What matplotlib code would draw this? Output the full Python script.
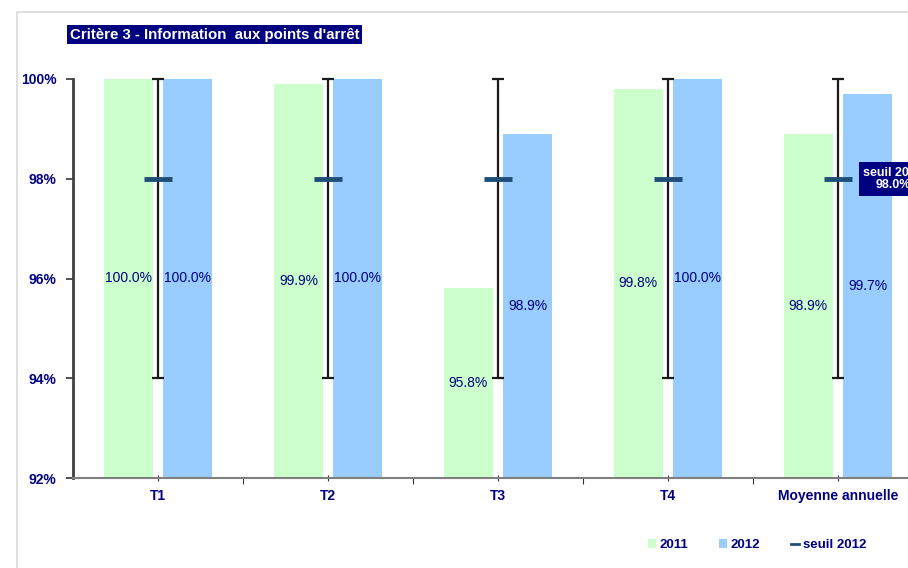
import numpy as np
import matplotlib
matplotlib.use("Agg")
import matplotlib.pyplot as plt
from matplotlib.patches import Patch, Rectangle
from matplotlib.lines import Line2D

plt.rcParams['font.family'] = ['Liberation Sans', 'DejaVu Sans']

categories = ["T1", "T2", "T3", "T4", "Moyenne annuelle"]
val_2011 = [100.0, 99.9, 95.8, 99.8, 98.9]
val_2012 = [100.0, 100.0, 98.9, 100.0, 99.7]
seuil_2012 = [98.0, 98.0, 98.0, 98.0, 98.0]
range_low = [94.0, 94.0, 94.0, 94.0, 94.0]
range_high = [100.0, 100.0, 100.0, 100.0, 100.0]
y_ticks = [92, 94, 96, 98, 100]

NAVY = "#000080"
GREEN = "#CCFFCC"
BLUE = "#99CCFF"
SEUIL = "#1F4E79"

W, H = 908, 568
fig = plt.figure(figsize=(W / 100, H / 100), dpi=100)
fig.patch.set_facecolor("white")

# outer frame
fig.add_artist(Rectangle((17 / W, -0.1), 1.2, 1 - 12 / H + 0.1, transform=fig.transFigure,
                         fill=False, edgecolor="#D9D9D9", linewidth=1.2))

ax = fig.add_axes([73 / W, (H - 478) / H, 850 / W, 399 / H])
ax.set_facecolor("none")

x = np.arange(len(categories))
bw = 0.29
off = 0.174
ax.bar(x - off, np.array(val_2011) - 92, bw, bottom=92, color=GREEN, zorder=2)
ax.bar(x + off, np.array(val_2012) - 92, bw, bottom=92, color=BLUE, zorder=2)

# data labels at the middle of each bar
for xi, v in zip(x, val_2011):
    ax.text(xi - off, (92 + v) / 2, f"{v:.1f}%", ha="center", va="center",
            fontsize=10, color=NAVY, zorder=5)
for xi, v in zip(x, val_2012):
    ax.text(xi + off, (92 + v) / 2, f"{v:.1f}%", ha="center", va="center",
            fontsize=10, color=NAVY, zorder=5)

# range lines around the threshold
s = np.array(seuil_2012)
ax.errorbar(x, s, yerr=[s - np.array(range_low), np.array(range_high) - s],
            fmt="none", ecolor="#1a1a1a", elinewidth=1.6, capsize=4, capthick=1.6,
            zorder=3, clip_on=False)
ax.plot(x, seuil_2012, linestyle="none", marker="_", markersize=19.5,
        markeredgewidth=3.5, color=SEUIL, zorder=4, clip_on=False)

ax.set_xlim(-0.5, len(categories) - 0.5)
ax.set_ylim(92, 100)
ax.set_yticks(y_ticks)
ax.set_yticklabels([f"{t}%" for t in y_ticks])
ax.set_xticks(x)
ax.set_xticklabels(categories)
ax.set_xticks(np.arange(len(categories)) + 0.5, minor=True)
ax.tick_params(axis="y", direction="out", length=5, width=1.2, color="#333333",
               labelsize=10, labelcolor=NAVY, pad=7)
ax.tick_params(axis="x", which="major", direction="inout", length=4, width=0.8,
               color="#333333", labelsize=10, labelcolor=NAVY, pad=6)
ax.tick_params(axis="x", which="minor", direction="out", length=4, width=0.8,
               color="#333333")
for lab in ax.get_yticklabels() + ax.get_xticklabels():
    lab.set_fontweight("bold")

for side in ["top", "right"]:
    ax.spines[side].set_visible(False)
ax.spines["left"].set_color("#404040")
ax.spines["left"].set_linewidth(2)
ax.spines["bottom"].set_color("#808080")
ax.spines["bottom"].set_linewidth(1.5)

# title box
fig.text(70 / W, 1 - 34.5 / H, "Critère 3 - Information  aux points d'arrêt",
         ha="left", va="center", fontsize=10.8, fontweight="bold", color="white",
         bbox=dict(boxstyle="square,pad=0.18", facecolor=NAVY, edgecolor="none"))

# threshold call-out
fig.text(893 / W, 1 - 179 / H, "seuil 2012\n98.0%", ha="center", va="center",
         multialignment="center", fontsize=9, fontweight="bold", color="white",
         linespacing=1.1,
         bbox=dict(boxstyle="square,pad=0.35", facecolor=NAVY, edgecolor="none"))

handles = [Patch(facecolor=GREEN, edgecolor="none"),
           Patch(facecolor=BLUE, edgecolor="none"),
           Line2D([], [], color=SEUIL, linewidth=2)]
leg = fig.legend(handles, ["2011", "2012", "seuil 2012"], loc="center",
                 bbox_to_anchor=(757 / W, 1 - 545 / H), ncol=3, frameon=False,
                 handlelength=0.6, handleheight=0.7, handletextpad=0.3,
                 columnspacing=2.3, prop=dict(size=9.5, weight="bold"))
for t in leg.get_texts():
    t.set_color(NAVY)

fig.savefig("out.png", dpi=100)
